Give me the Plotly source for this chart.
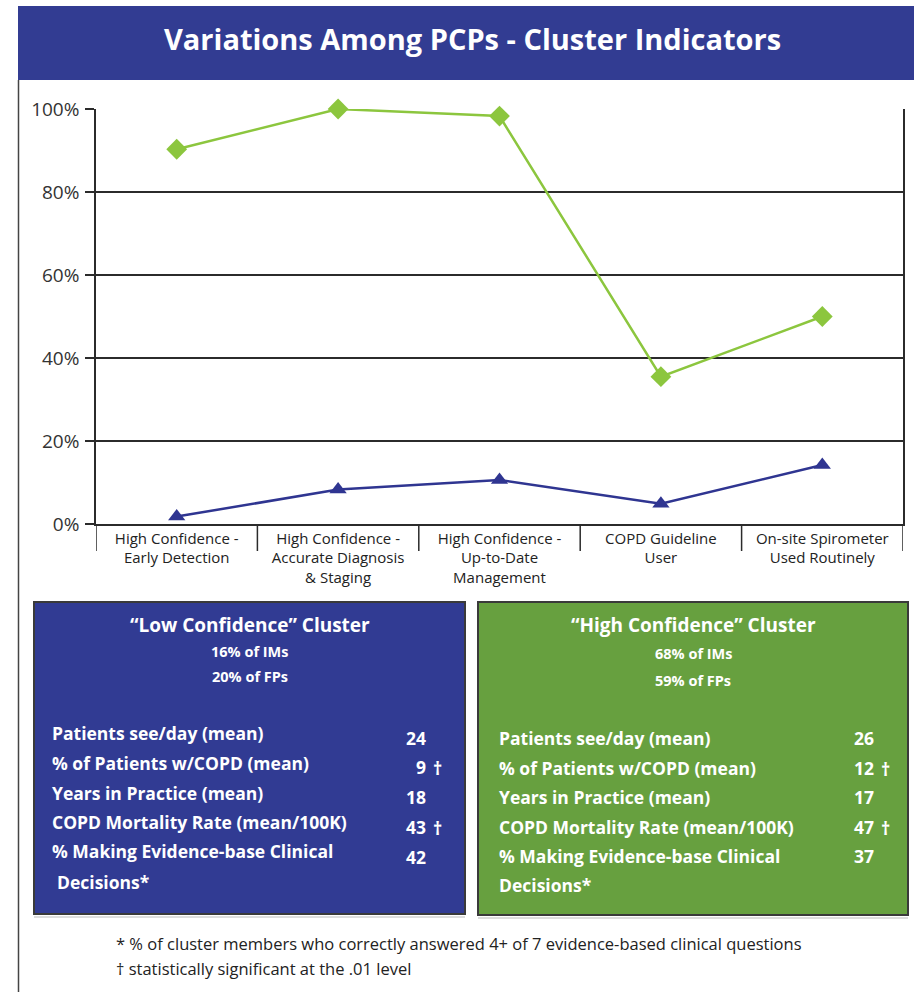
import plotly.graph_objects as go

W, H = 914, 992

# ---- data ----
categories = [
    "High Confidence -<br>Early Detection",
    "High Confidence -<br>Accurate Diagnosis<br>& Staging",
    "High Confidence -<br>Up-to-Date<br>Management",
    "COPD Guideline<br>User",
    "On-site Spirometer<br>Used Routinely",
]
high_confidence = [90.3, 100, 98.3, 35.5, 50]
low_confidence = [1.8, 8.3, 10.6, 4.9, 14.2]
y_ticks = [0, 20, 40, 60, 80, 100]

metric_labels = [
    "Patients see/day (mean)",
    "% of Patients w/COPD (mean)",
    "Years in Practice (mean)",
    "COPD Mortality Rate (mean/100K)",
    "% Making Evidence-base Clinical",
]
low_values = ["24", "9", "18", "43", "42"]
high_values = ["26", "12", "17", "47", "37"]
significant = [False, True, False, True, False]

low_title = "\u201cLow Confidence\u201d Cluster"
low_share = ["16% of IMs", "20% of FPs"]
high_title = "\u201cHigh Confidence\u201d Cluster"
high_share = ["68% of IMs", "59% of FPs"]

footnotes = [
    "* % of cluster members who correctly answered 4+ of 7 evidence-based clinical questions",
    "\u2020 statistically significant at the .01 level",
]

# ---- styling ----
FONT = "Open Sans"
HEADER_BLUE = "#323C92"
BOX_BLUE = "#313B93"
BOX_GREEN = "#67A03F"
LINE_GREEN = "#8CC63E"
LINE_BLUE = "#2F3591"
GRID = "#2b2b2b"
ROW_SIZE = 17.5


def px(x):
    return x / W


def py(y):
    return 1 - y / H


fig = go.Figure()

fig.add_trace(go.Scatter(
    x=categories, y=high_confidence, mode="lines+markers",
    line=dict(color=LINE_GREEN, width=2.5),
    marker=dict(symbol="diamond", size=16, color=LINE_GREEN),
    showlegend=False, cliponaxis=False,
))
fig.add_trace(go.Scatter(
    x=categories, y=low_confidence, mode="lines+markers",
    line=dict(color=LINE_BLUE, width=2.5),
    marker=dict(symbol="triangle-up", size=15, color=LINE_BLUE),
    showlegend=False, cliponaxis=False,
))

shapes = []
annotations = []

# header band and panel edge
shapes.append(dict(type="rect", xref="paper", yref="paper",
                   x0=px(18), x1=px(914), y0=py(80), y1=py(6),
                   fillcolor=HEADER_BLUE, line=dict(width=0), layer="below"))
shapes.append(dict(type="line", xref="paper", yref="paper",
                   x0=px(18.5), x1=px(18.5), y0=py(80), y1=py(992),
                   line=dict(color="#444444", width=1.5)))
annotations.append(dict(text="<b>Variations Among PCPs - Cluster Indicators</b>",
                        xref="paper", yref="paper", x=px(472), y=py(39),
                        showarrow=False, font=dict(family=FONT, size=29, color="white"),
                        xanchor="center", yanchor="middle"))

# category dividers below the axis
for i in range(len(categories) + 1):
    shapes.append(dict(type="line", xref="x", yref="paper",
                       x0=i - 0.5, x1=i - 0.5, y0=py(524), y1=py(551),
                       line=dict(color=GRID, width=1.5)))


def cluster_box(x0, x1, y0, y1, fill, title, share, values, title_y, share_y,
                row_y, val_y, label_x, val_right, dec_x, dec_y):
    # soft rule beneath the box
    shapes.append(dict(type="line", xref="paper", yref="paper",
                       x0=px(x0), x1=px(x1), y0=py(y1 + 3), y1=py(y1 + 3),
                       line=dict(color="#bbbbbb", width=1)))
    shapes.append(dict(type="rect", xref="paper", yref="paper",
                       x0=px(x0), x1=px(x1), y0=py(y1), y1=py(y0),
                       fillcolor=fill, line=dict(color="#3a3a3a", width=2)))
    cx = (x0 + x1) / 2
    annotations.append(dict(text="<b>" + title + "</b>", xref="paper", yref="paper",
                            x=px(cx), y=py(title_y), showarrow=False,
                            font=dict(family=FONT, size=19, color="white"),
                            xanchor="center", yanchor="middle"))
    for s, sy in zip(share, share_y):
        annotations.append(dict(text="<b>" + s + "</b>", xref="paper", yref="paper",
                                x=px(cx), y=py(sy), showarrow=False,
                                font=dict(family=FONT, size=14.5, color="white"),
                                xanchor="center", yanchor="middle"))
    for lab, v, sig, ly, vy in zip(metric_labels, values, significant, row_y, val_y):
        annotations.append(dict(text="<b>" + lab + "</b>", xref="paper", yref="paper",
                                x=px(label_x), y=py(ly), showarrow=False,
                                font=dict(family=FONT, size=ROW_SIZE, color="white"),
                                xanchor="left", yanchor="middle"))
        annotations.append(dict(text="<b>" + v + "</b>", xref="paper", yref="paper",
                                x=px(val_right), y=py(vy), showarrow=False,
                                font=dict(family=FONT, size=ROW_SIZE, color="white"),
                                xanchor="right", yanchor="middle"))
        if sig:
            annotations.append(dict(text="<b>\u2020</b>", xref="paper", yref="paper",
                                    x=px(val_right + 3), y=py(vy + 1), showarrow=False,
                                    font=dict(family=FONT, size=18, color="white"),
                                    xanchor="left", yanchor="middle"))
    annotations.append(dict(text="<b>Decisions*</b>", xref="paper", yref="paper",
                            x=px(dec_x), y=py(dec_y), showarrow=False,
                            font=dict(family=FONT, size=ROW_SIZE, color="white"),
                            xanchor="left", yanchor="middle"))


cluster_box(34, 465, 602, 914, BOX_BLUE, low_title, low_share, low_values,
            625, [651, 676], [733, 763, 793, 822, 851], [738, 767, 797, 827, 857],
            50, 428, 55, 882)
cluster_box(478, 908, 602, 915, BOX_GREEN, high_title, high_share, high_values,
            625, [653, 680], [738, 768, 797, 827, 856], [738, 768, 797, 827, 856],
            497, 876, 497, 885)

for t, fy in zip(footnotes, [943, 968]):
    annotations.append(dict(text=t, xref="paper", yref="paper",
                            x=px(114), y=py(fy), showarrow=False,
                            font=dict(family=FONT, size=16.5, color="#222222"),
                            xanchor="left", yanchor="middle"))

fig.update_layout(
    width=W, height=H, autosize=False,
    margin=dict(l=0, r=0, t=0, b=0, pad=0),
    paper_bgcolor="white", plot_bgcolor="white",
    shapes=shapes, annotations=annotations,
    xaxis=dict(
        domain=[px(96), px(903)], range=[-0.5, len(categories) - 0.5],
        type="category", showgrid=False, zeroline=False, automargin=False,
        showline=True, linecolor=GRID, linewidth=1.5,
        ticks="", tickfont=dict(family=FONT, size=15, color="#222222"),
        ticklabelstandoff=0,
    ),
    yaxis=dict(
        domain=[py(524), py(109)], range=[0, 100], automargin=False,
        tickvals=y_ticks, ticktext=[f"{v}%" for v in y_ticks],
        showgrid=True, gridcolor=GRID, gridwidth=1.5, zeroline=False,
        showline=True, linecolor=GRID, linewidth=1.5, mirror=True,
        ticks="outside", ticklen=9, tickcolor=GRID, tickwidth=1.5,
        tickfont=dict(family=FONT, size=19, color="#333333"),
        ticklabelstandoff=2,
    ),
)

fig.write_html("out.html")
